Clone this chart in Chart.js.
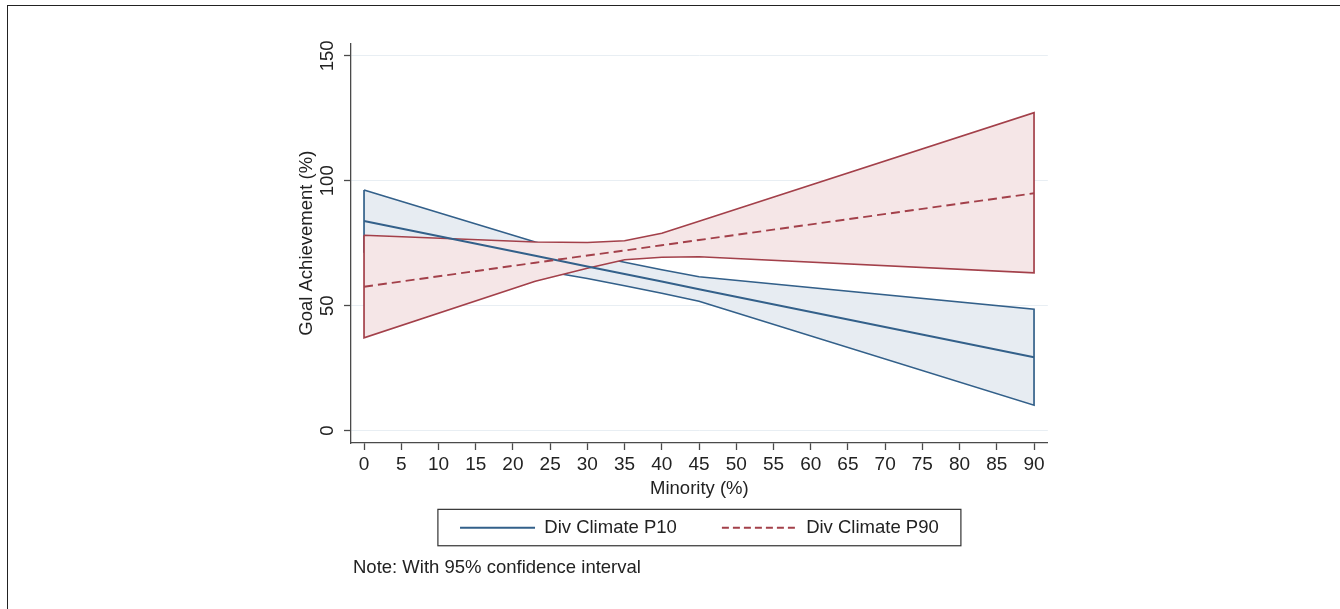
<!DOCTYPE html>
<html>
<head>
<meta charset="utf-8">
<script src="https://cdn.jsdelivr.net/npm/chart.js@4/dist/chart.umd.min.js"></script>
<style>
  html, body { margin: 0; padding: 0; background: #ffffff; }
  #wrap { position: relative; width: 1340px; height: 609px; overflow: hidden; background: #ffffff; }
  #frame { position: absolute; left: 7px; top: 5px; width: 1345px; height: 620px;
           border-top: 1px solid #222; border-left: 1px solid #222; box-sizing: border-box; }
  #chart { position: absolute; left: 0; top: 0; }
  #note { position: absolute; left: 353px; top: 556px; margin: 0;
          font: 18.5px "Liberation Sans", Arial, Helvetica, sans-serif; color: #222; white-space: nowrap; }
</style>
</head>
<body>
<div id="wrap">
  <div id="frame"></div>
  <canvas id="chart" width="1340" height="609"></canvas>
  <p id="note">Note: With 95% confidence interval</p>
</div>
<script>
// ---- data ----
const minority = [0, 23, 30, 35, 40, 45, 90];
const p10Mean  = [83.9, 70.0, 65.7, 62.7, 59.7, 56.6, 29.4];
const p10Upper = [96.3, 75.5, 70.5, 67.4, 64.4, 61.6, 48.6];
const p10Lower = [71.5, 64.5, 60.9, 58.0, 55.0, 51.8, 10.2];
const p90Mean  = [57.6, 67.2, 70.1, 72.1, 74.2, 76.3, 95.0];
const p90Upper = [78.2, 75.5, 75.3, 76.0, 79.0, 83.8, 127.2];
const p90Lower = [37.2, 59.8, 65.0, 68.4, 69.4, 69.6, 63.2];
const xTickValues = [0, 5, 10, 15, 20, 25, 30, 35, 40, 45, 50, 55, 60, 65, 70, 75, 80, 85, 90];
const yTickValues = [0, 50, 100, 150];
const seriesNames = ['Div Climate P10', 'Div Climate P90'];
const xTitle = 'Minority (%)';
const yTitle = 'Goal Achievement (%)';

// ---- styles ----
const FONT = '"Liberation Sans", Arial, Helvetica, sans-serif';
const BLUE = '#33608a';
const RED = '#a3404a';
const BLUE_FILL = '#e7ecf2';
const RED_FILL = '#f5e6e7';
const AXIS = '#4a4a4a';
const GRID = '#e8eef3';
const TEXT = '#222222';

function line(values) {
  return minority.map((x, i) => ({ x: x, y: values[i] }));
}
function band(upper, lower) {
  const pts = minority.map((x, i) => ({ x: x, y: upper[i] }));
  for (let i = minority.length - 1; i >= 0; i--) pts.push({ x: minority[i], y: lower[i] });
  pts.push({ x: minority[0], y: upper[0] });
  return pts;
}

const legendBox = {
  id: 'legendBox',
  afterDraw(chart) {
    const hb = chart.legend && chart.legend.legendHitBoxes;
    if (!hb || !hb.length) return;
    const l = Math.min(...hb.map(h => h.left));
    const r = Math.max(...hb.map(h => h.left + h.width));
    const cx = (l + r) / 2;
    const cy = hb[0].top + hb[0].height / 2;
    const ctx = chart.ctx;
    ctx.save();
    ctx.strokeStyle = '#333';
    ctx.lineWidth = 1.2;
    ctx.strokeRect(cx - 261.5, cy - 18.4, 523, 36.4);
    ctx.restore();
  }
};

Chart.defaults.font.family = FONT;

new Chart(document.getElementById('chart'), {
  type: 'line',
  data: {
    datasets: [
      { label: seriesNames[0], data: line(p10Mean), borderColor: BLUE, borderWidth: 1.9,
        pointRadius: 0, fill: false, order: 2 },
      { label: seriesNames[1], data: line(p90Mean), borderColor: RED, borderWidth: 1.9,
        borderDash: [9, 5], pointRadius: 0, fill: false, order: 1 },
      { label: 'ci10', data: band(p10Upper, p10Lower), borderColor: BLUE, borderWidth: 1.7,
        backgroundColor: BLUE_FILL, pointRadius: 0, fill: 'shape', order: 4 },
      { label: 'ci90', data: band(p90Upper, p90Lower), borderColor: RED, borderWidth: 1.7,
        backgroundColor: RED_FILL, pointRadius: 0, fill: 'shape', order: 3 }
    ]
  },
  options: {
    responsive: false,
    animation: false,
    devicePixelRatio: 1,
    layout: { padding: { left: 290, right: 292.2, top: 43.3, bottom: 62 } },
    elements: { line: { tension: 0 } },
    scales: {
      x: {
        type: 'linear', min: -1.75, max: 91.85,
        afterBuildTicks: s => { s.ticks = xTickValues.map(v => ({ value: v })); },
        afterFit: s => { s.height = 30.5; },
        grid: { drawOnChartArea: false, drawTicks: true, tickLength: 7, tickColor: AXIS, tickWidth: 1.3 },
        border: { color: AXIS, width: 1.3 },
        ticks: { color: TEXT, font: { size: 19 }, padding: 3, minRotation: 0, maxRotation: 0, autoSkip: false },
        title: { display: true, text: xTitle, color: TEXT, font: { size: 18.5 }, padding: { top: 0, bottom: -26.6 } }
      },
      y: {
        type: 'linear', min: -4.92, max: 155.0,
        afterBuildTicks: s => { s.ticks = yTickValues.map(v => ({ value: v })); },
        afterFit: s => { s.width = 61; },
        grid: { color: GRID, lineWidth: 1, drawTicks: true, tickLength: 7, tickColor: AXIS, tickWidth: 1.3 },
        border: { color: AXIS, width: 1.3 },
        ticks: { color: TEXT, font: { size: 18.5 }, padding: 1, minRotation: 90, maxRotation: 90, crossAlign: 'center' },
        title: { display: true, text: yTitle, color: TEXT, font: { size: 18.5 }, padding: { top: 5.4, bottom: 0 } }
      }
    },
    plugins: {
      tooltip: { enabled: false },
      legend: {
        position: 'bottom', fullSize: false, align: 'center',
        labels: {
          usePointStyle: true, pointStyle: 'line', pointStyleWidth: 75, padding: 45,
          color: TEXT, font: { size: 18.5 },
          filter: item => item.datasetIndex < 2,
          sort: (a, b) => a.datasetIndex - b.datasetIndex,
          generateLabels: chart => {
            const items = Chart.defaults.plugins.legend.labels.generateLabels(chart);
            items.forEach(it => {
              const ds = chart.data.datasets[it.datasetIndex];
              it.lineDash = ds.borderDash ? [7, 4] : [];
              it.lineWidth = ds.borderWidth;
              it.strokeStyle = ds.borderColor;
            });
            return items;
          }
        }
      }
    }
  },
  plugins: [legendBox]
});
</script>
</body>
</html>
